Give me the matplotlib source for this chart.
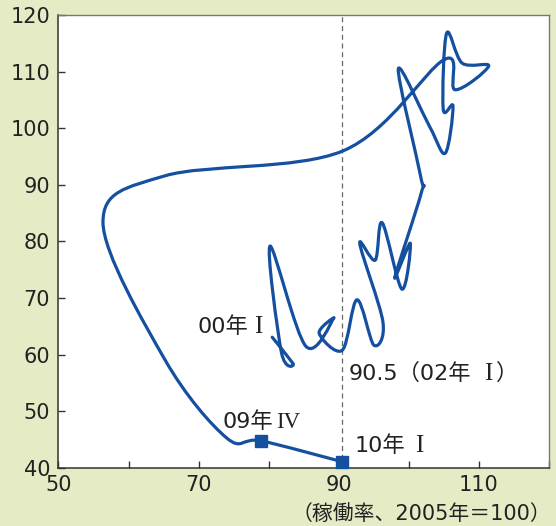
import numpy as np
import matplotlib
matplotlib.use("Agg")
import matplotlib.pyplot as plt
from matplotlib.path import Path
from matplotlib.patches import PathPatch

# ---- data ----
utilization = [80.5, 83.5, 81.8, 80.2, 85.3, 89.3, 87.2, 90.5,
               92.6, 95.0, 96.3, 93.0, 95.2, 96.2, 99.0, 100.2, 98.0,
               101.8, 101.7, 98.5, 103.0, 105.2, 106.3, 104.9, 105.4,
               107.6, 111.4, 106.6, 105.0, 90.6, 65.2, 56.35, 65.2,
               74.0, 78.9, 90.5]
level = [63.1, 58.4, 60.5, 79.2, 61.5, 66.5, 63.8, 60.8,
         69.7, 61.7, 65.8, 79.6, 76.7, 83.3, 71.6, 79.7, 73.7,
         88.7, 91.4, 110.5, 100.2, 95.6, 103.9, 103.4, 116.8,
         111.5, 111.0, 106.8, 112.1, 96.0, 91.6, 83.4, 59.1,
         45.3, 44.8, 41.1]
marked_idx = [34, 35]          # 09年Ⅳ, 10年Ⅰ
ref_value = 90.5               # 02年Ⅰ level
xticks_major = [50, 70, 90, 110]
xticks_all = [50, 60, 70, 80, 90, 100, 110, 120]
yticks = [40, 50, 60, 70, 80, 90, 100, 110, 120]

BLUE = "#1550a0"
BG = "#e5ecc5"
TXT = "#222222"
SANS = ["DejaVu Sans", "Noto Sans CJK JP"]
SERIF = ["Liberation Serif", "DejaVu Serif"]

fig = plt.figure(figsize=(5.56, 5.26), dpi=100, facecolor=BG)
ax = fig.add_axes([0.1052, 0.1103, 0.8822, 0.8612])
ax.set_facecolor("white")
ax.set_xlim(50, 120)
ax.set_ylim(40, 120)

# smooth curve (Catmull-Rom as cubic Bezier through the read points)
pts = np.column_stack([utilization, level]).astype(float)
n = len(pts)
verts = [pts[0]]
codes = [Path.MOVETO]
for i in range(n - 1):
    p0 = pts[i - 1] if i > 0 else pts[i]
    p1 = pts[i]
    p2 = pts[i + 1]
    p3 = pts[i + 2] if i + 2 < n else pts[i + 1]
    verts += [p1 + (p2 - p0) / 6.0, p2 - (p3 - p1) / 6.0, p2]
    codes += [Path.CURVE4] * 3
ax.add_patch(PathPatch(Path(verts, codes), facecolor="none", edgecolor=BLUE,
                       lw=2.3, capstyle="round", joinstyle="round", zorder=3))

ax.axvline(ref_value, color="#666666", lw=0.9, ls=(0, (4, 3)), zorder=2)

ax.plot([utilization[i] for i in marked_idx], [level[i] for i in marked_idx],
        ls="none", marker="s", ms=9, color=BLUE, zorder=4, clip_on=False)


def label(x, y, s, ha, serif=False, size=16):
    ax.text(x, y, s, ha=ha, va="baseline", fontsize=size,
            family=SERIF if serif else SANS, color=TXT)


# annotations (text pieces; Roman numerals in a serif face)
label(77.1, 63.8, "00年", "right")
label(78.55, 63.8, "I", "center", serif=True, size=18)
label(91.45, 55.55, "90.5（02年", "left")
label(111.3, 55.55, "I", "center", serif=True, size=18)
label(112.5, 55.55, "）", "left")
label(80.7, 47.0, "09年", "right")
label(81.1, 47.0, "IV", "left", serif=True, size=16.5)
label(92.3, 42.9, "10年", "left")
label(101.5, 42.9, "I", "center", serif=True, size=18)

fig.text(551 / 556, 1 - 520 / 526, "（稼働率、2005年＝100）", ha="right",
         va="baseline", fontsize=15, family=SANS, color=TXT)

# axes styling
ax.set_xticks(xticks_all)
ax.set_xticklabels([str(v) if v in xticks_major else "" for v in xticks_all])
ax.set_yticks(yticks)
ax.tick_params(axis="both", direction="in", length=5, width=1,
               color="#333333", labelsize=15, labelcolor=TXT)
ax.tick_params(axis="x", pad=5)
ax.tick_params(axis="y", pad=6)
for s in ["left", "bottom"]:
    ax.spines[s].set_color("#333333")
    ax.spines[s].set_linewidth(1.1)
for s in ["top", "right"]:
    ax.spines[s].set_color("#777777")
    ax.spines[s].set_linewidth(1.0)

fig.savefig("out.png", dpi=100, facecolor=BG)
